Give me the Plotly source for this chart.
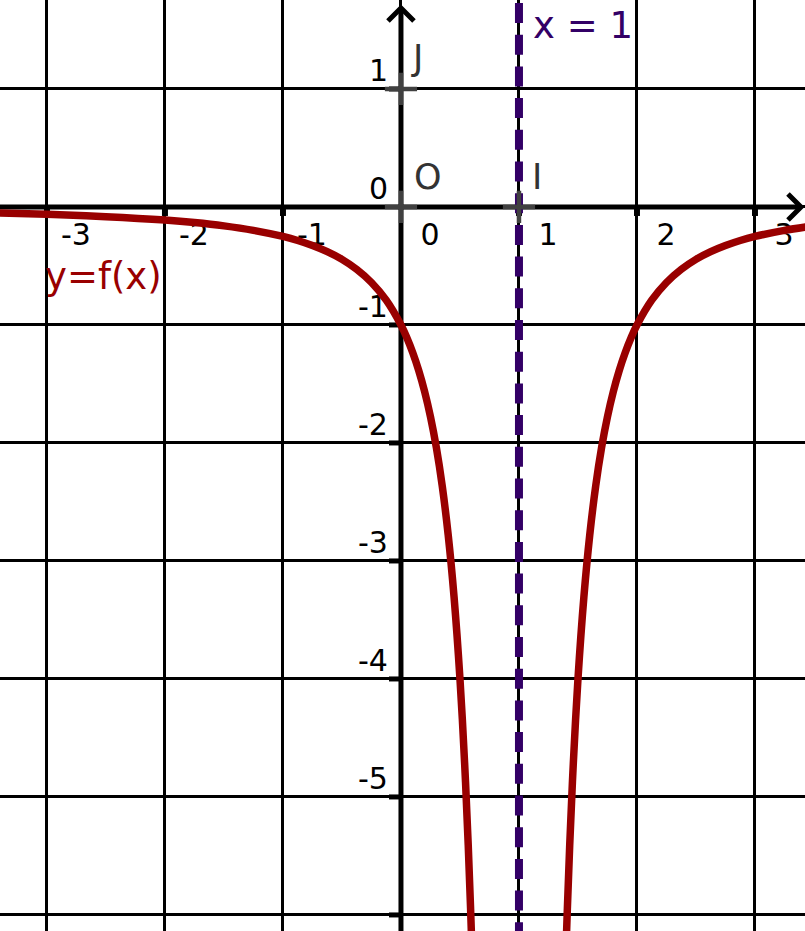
import plotly.graph_objects as go

# ---------------- data ----------------
left_x = [-3.45, -3.0, -2.5, -2.0, -1.75, -1.5, -1.25, -1.0, -0.875, -0.75, -0.625, -0.5,
          -0.375, -0.25, -0.125, 0.0, 0.05, 0.1, 0.15, 0.2, 0.25, 0.3, 0.35, 0.4, 0.45, 0.5,
          0.54, 0.57, 0.59, 0.605]
left_y = [-0.05, -0.0625, -0.082, -0.111, -0.132, -0.16, -0.198, -0.25, -0.284, -0.327,
          -0.379, -0.444, -0.529, -0.64, -0.79, -1.0, -1.108, -1.235, -1.384, -1.5625,
          -1.778, -2.04, -2.367, -2.778, -3.306, -4.0, -4.726, -5.408, -5.949, -6.4]
right_x = [1.395, 1.41, 1.43, 1.46, 1.5, 1.55, 1.6, 1.65, 1.7, 1.75, 1.8, 1.85, 1.9, 1.95,
           2.0, 2.125, 2.25, 2.375, 2.5, 2.625, 2.75, 2.875, 3.0, 3.25, 3.45]
right_y = [-6.4, -5.949, -5.408, -4.726, -4.0, -3.306, -2.778, -2.367, -2.04, -1.778,
           -1.5625, -1.384, -1.235, -1.108, -1.0, -0.79, -0.64, -0.529, -0.444, -0.379,
           -0.327, -0.284, -0.25, -0.198, -0.167]

x_ticks = [-3, -2, -1, 0, 1, 2, 3]
x_tick_labels = ["-3", "-2", "-1", "0", "1", "2", "3"]
y_ticks = [1, 0, -1, -2, -3, -4, -5]
y_tick_labels = ["1", "0", "-1", "-2", "-3", "-4", "-5"]
x_stubs = [-3, -2, -1, 1, 2, 3]
y_stubs = [1, -1, -2, -3, -4, -5, -6]
asymptote_x = 1
points_x = [0, 1, 0]
points_y = [0, 0, 1]
points_names = ["O", "I", "J"]

# ---------------- layout constants ----------------
X_MIN, X_MAX = -3.398, 3.424
Y_MIN, Y_MAX = -6.136, 1.754
X_TIP = 3.39
Y_TIP = 1.686
FONT = "DejaVu Sans"
CURVE = "#990000"
PURPLE = "#330066"
PX = 118.0  # pixels per unit

fig = go.Figure()

# tick labels (drawn before the curve so the curve passes over them)
fig.add_trace(go.Scatter(
    x=[k + 29 / PX for k in x_ticks], y=[-31 / PX] * len(x_ticks),
    mode="text", text=x_tick_labels, textposition="middle center",
    textfont=dict(family=FONT, size=30, color="black"),
    hoverinfo="skip", showlegend=False))
fig.add_trace(go.Scatter(
    x=[-13 / PX] * len(y_ticks), y=[k + 15 / PX for k in y_ticks],
    mode="text", text=y_tick_labels, textposition="middle left",
    textfont=dict(family=FONT, size=30, color="black"),
    hoverinfo="skip", showlegend=False))

# curve branches
for xs, ys in ((left_x, left_y), (right_x, right_y)):
    fig.add_trace(go.Scatter(
        x=xs, y=ys, mode="lines",
        line=dict(color=CURVE, width=7.5, shape="spline", smoothing=1.0),
        hoverinfo="skip", showlegend=False))

# asymptote x = 1 (drawn from the top down so the dash phase matches)
fig.add_trace(go.Scatter(
    x=[asymptote_x, asymptote_x], y=[Y_MAX - 3 / PX, Y_MIN - 0.2], mode="lines",
    line=dict(color=PURPLE, width=8, dash="20px,11.7px"),
    hoverinfo="skip", showlegend=False))

# points O, I, J
fig.add_trace(go.Scatter(
    x=points_x, y=points_y, mode="markers",
    marker=dict(symbol="cross-thin", size=23, line=dict(color="#404040", width=4.5)),
    hoverinfo="skip", showlegend=False))

shapes = []
# axes
shapes.append(dict(type="line", x0=X_MIN, x1=X_TIP, y0=0, y1=0,
                   line=dict(color="black", width=5), layer="below"))
shapes.append(dict(type="line", x0=0, x1=0, y0=Y_MIN, y1=Y_TIP,
                   line=dict(color="black", width=5), layer="below"))
# arrow heads
shapes.append(dict(type="path", xsizemode="pixel", ysizemode="pixel",
                   xanchor=X_TIP, yanchor=0, path="M -13,13 L 0,0 L -13,-13",
                   line=dict(color="black", width=5), layer="below"))
shapes.append(dict(type="path", xsizemode="pixel", ysizemode="pixel",
                   xanchor=0, yanchor=Y_TIP, path="M -13,-13 L 0,0 L 13,-13",
                   line=dict(color="black", width=5), layer="below"))
# tick stubs
for k in x_stubs:
    shapes.append(dict(type="line", ysizemode="pixel", yanchor=0, x0=k, x1=k, y0=0, y1=-9,
                       line=dict(color="black", width=6), layer="below"))
for k in y_stubs:
    shapes.append(dict(type="line", xsizemode="pixel", xanchor=0, y0=k, y1=k, x0=0, x1=-12,
                       line=dict(color="black", width=5), layer="below"))

annotations = [
    dict(x=asymptote_x + 12 / PX, y=1.54, text="x = 1", showarrow=False, xanchor="left",
         font=dict(family=FONT, size=37, color=PURPLE)),
    dict(x=-2.52, y=-0.59, text="y=f(x)", showarrow=False,
         font=dict(family=FONT, size=37, color=CURVE)),
]
label_offsets = [(0.23, 0.25), (0.15, 0.25), (0.14, 0.26)]
for px_, py_, name, (dx, dy) in zip(points_x, points_y, points_names, label_offsets):
    annotations.append(dict(x=px_ + dx, y=py_ + dy, text=name, showarrow=False,
                            font=dict(family=FONT, size=35, color="#333333")))

fig.update_layout(
    width=805, height=931, autosize=False,
    margin=dict(l=0, r=0, t=0, b=0),
    plot_bgcolor="white", paper_bgcolor="white",
    shapes=shapes, annotations=annotations,
    xaxis=dict(range=[X_MIN, X_MAX], showgrid=True, gridcolor="black", gridwidth=2.5,
               tick0=0, dtick=1, zeroline=False, showline=False, showticklabels=False,
               ticks="", fixedrange=True),
    yaxis=dict(range=[Y_MIN, Y_MAX], showgrid=True, gridcolor="black", gridwidth=2.5,
               tick0=0, dtick=1, zeroline=False, showline=False, showticklabels=False,
               ticks="", fixedrange=True),
    showlegend=False,
)

fig.write_html("out.html", config=dict(displayModeBar=False),
               post_script="document.body.style.margin='0';document.body.style.padding='0';")
